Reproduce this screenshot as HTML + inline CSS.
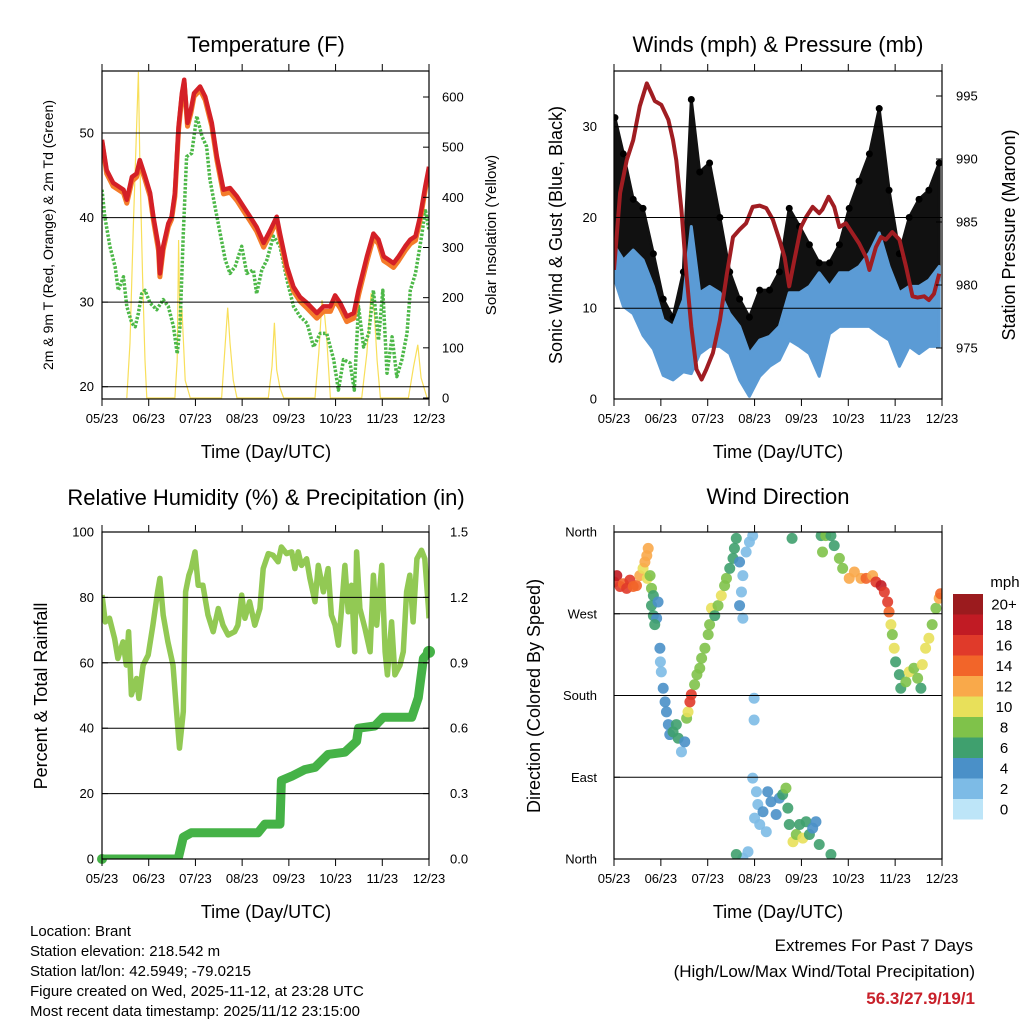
<!DOCTYPE html>
<html><head><meta charset="utf-8">
<style>
html,body{margin:0;padding:0;background:#fff;}
svg{display:block;font-family:"Liberation Sans",Arial,sans-serif;}
</style></head>
<body>
<svg id="chart" width="1024" height="1024" viewBox="0 0 1024 1024" xmlns="http://www.w3.org/2000/svg">
<defs>
<clipPath id="c1"><rect x="102" y="71" width="327" height="328"/></clipPath>
<clipPath id="c2"><rect x="614" y="71" width="328" height="328"/></clipPath>
<clipPath id="c3"><rect x="102" y="532" width="327" height="327"/></clipPath>
<clipPath id="c4"><rect x="614" y="532" width="328" height="327"/></clipPath>
</defs>
<text x="266" y="52" font-size="22" text-anchor="middle">Temperature (F)</text>
<text x="778" y="52" font-size="22" text-anchor="middle">Winds (mph) &amp; Pressure (mb)</text>
<text x="266" y="505" font-size="22" text-anchor="middle">Relative Humidity (%) &amp; Precipitation (in)</text>
<text x="778" y="504" font-size="22" text-anchor="middle">Wind Direction</text>

<text transform="translate(53,235) rotate(-90)" font-size="14" text-anchor="middle">2m &amp; 9m T (Red, Orange) &amp; 2m Td (Green)</text>
<text transform="translate(496,235) rotate(-90)" font-size="15" text-anchor="middle">Solar Insolation (Yellow)</text>
<text transform="translate(562,235) rotate(-90)" font-size="18" text-anchor="middle">Sonic Wind &amp; Gust (Blue, Black)</text>
<text transform="translate(1015,235) rotate(-90)" font-size="18" text-anchor="middle">Station Pressure (Maroon)</text>
<text transform="translate(47,696) rotate(-90)" font-size="18" text-anchor="middle">Percent &amp; Total Rainfall</text>
<text transform="translate(540,696) rotate(-90)" font-size="18" text-anchor="middle">Direction (Colored By Speed)</text>

<text x="266" y="458" font-size="18" text-anchor="middle">Time (Day/UTC)</text>
<text x="778" y="458" font-size="18" text-anchor="middle">Time (Day/UTC)</text>
<text x="266" y="918" font-size="18" text-anchor="middle">Time (Day/UTC)</text>
<text x="778" y="918" font-size="18" text-anchor="middle">Time (Day/UTC)</text>

<g font-size="15">
<text x="30" y="936">Location: Brant</text>
<text x="30" y="956">Station elevation: 218.542 m</text>
<text x="30" y="976">Station lat/lon: 42.5949; -79.0215</text>
<text x="30" y="996">Figure created on Wed, 2025-11-12, at 23:28 UTC</text>
<text x="30" y="1016">Most recent data timestamp: 2025/11/12 23:15:00</text>
</g>
<g font-size="17" text-anchor="end">
<text x="973" y="951">Extremes For Past 7 Days</text>
<text x="975" y="977">(High/Low/Max Wind/Total Precipitation)</text>
<text x="975" y="1004" fill="#c8202a" font-weight="bold">56.3/27.9/19/1</text>
</g>
<text x="1005" y="587" font-size="15" text-anchor="middle">mph</text>
</svg>
<script>
// ---------- data ----------
const dateLabels=["05/23","06/23","07/23","08/23","09/23","10/23","11/23","12/23"];
const tempTicks=[20,30,40,50];
const solarTicks=[0,100,200,300,400,500,600];
const windTicks=[0,10,20,30];
const pressTicks=[975,980,985,990,995];
const rhTicks=[0,20,40,60,80,100];
const precipTicks=[0.0,0.3,0.6,0.9,1.2,1.5];
const dirTicks=[0,90,180,270,360];
const dirLabels=["North","East","South","West","North"];
const speedBins=["0","2","4","6","8","10","12","14","16","18","20+"];

const tempT=[0,.10,.24,.46,.53,.64,.74,.81,.92,1.03,1.10,1.21,1.24,1.31,1.42,1.49,1.56,1.64,1.71,1.76,1.83,1.90,1.97,2.10,2.21,2.35,2.46,2.60,2.74,2.89,3.03,3.17,3.31,3.46,3.60,3.74,3.81,3.96,4.10,4.24,4.39,4.60,4.74,4.89,4.99,5.10,5.24,5.39,5.49,5.67,5.81,5.92,6.03,6.14,6.24,6.35,6.49,6.60,6.71,6.81,6.92,7.0];
const temp2m=[49.2,45.6,44.1,43.3,42.1,44.8,45.2,46.8,44.9,42.9,40.1,36.6,33.4,36.6,39.3,40.1,42.9,50.8,54.7,56.3,51.2,52.7,54.7,55.5,54.3,51.2,47.2,43.3,43.5,42.5,41.3,40.1,38.9,37.0,38.5,40.1,38.1,34.2,31.8,30.6,29.9,28.7,29.5,29.5,30.8,29.9,28.3,28.7,31.4,35.4,38.1,37.4,35.4,35.0,34.6,35.4,36.6,37.4,37.8,40.1,43.7,46.0];
const temp9m=[48.9,45.2,43.7,42.9,41.7,44.3,44.8,46.3,44.5,42.5,39.7,36.1,33.0,36.2,38.9,39.8,42.5,50.4,54.3,55.9,50.8,52.3,54.3,55.1,53.9,50.8,46.8,42.8,43.0,42.0,40.8,39.6,38.4,36.5,38.0,39.6,37.6,33.7,31.3,30.1,29.3,28.1,28.9,28.9,30.2,29.3,27.7,28.1,30.8,34.8,37.6,36.9,34.9,34.5,34.1,34.9,36.1,36.9,37.3,39.7,43.3,45.6];
const dewT=[0,.06,.17,.28,.35,.46,.53,.64,.71,.78,.85,.92,1.03,1.17,1.31,1.42,1.53,1.61,1.67,1.74,1.81,1.92,2.03,2.14,2.24,2.31,2.42,2.53,2.64,2.74,2.85,2.99,3.10,3.24,3.31,3.42,3.53,3.67,3.81,3.96,4.10,4.24,4.39,4.53,4.67,4.81,4.96,5.06,5.17,5.31,5.40,5.49,5.60,5.71,5.81,5.92,6.01,6.10,6.21,6.31,6.42,6.53,6.60,6.71,6.85,6.92,7.0];
const dewV=[43.3,40.1,36.6,34.2,31.4,33.0,29.5,27.5,27.1,28.7,31.0,31.4,29.9,29.1,30.3,29.5,27.1,23.9,27.1,38.1,47.2,47.6,52.0,49.6,48.4,44.5,41.3,38.1,35.0,33.4,34.2,36.6,33.4,33.8,31.0,33.8,35.0,37.8,36.6,32.6,29.5,28.3,27.5,24.7,26.3,26.3,23.2,19.6,23.2,22.8,19.6,29.5,24.7,26.3,31.4,25.5,31.4,21.6,25.9,21.2,23.2,26.3,31.4,33.4,38.1,41.0,38.5];
const solarT=[.53,.60,.67,.73,.78,.81,.87,.92,.96,1.56,1.61,1.64,1.67,1.71,1.78,1.89,2.56,2.64,2.69,2.74,2.81,2.89,3.56,3.64,3.69,3.74,3.81,3.89,4.56,4.64,4.71,4.76,4.81,4.89,5.56,5.67,5.76,5.83,5.89,5.96,6.56,6.67,6.76,6.83,6.96];
const solarV=[0,110,340,510,650,475,240,75,0,0,75,315,140,180,35,0,0,110,180,110,35,0,0,63,150,56,20,0,0,90,195,170,120,0,0,90,209,170,75,0,0,63,106,40,0];

const windT=[.02,.20,.41,.62,.84,1.05,1.26,1.48,1.65,1.83,2.04,2.26,2.47,2.68,2.89,3.11,3.32,3.53,3.74,3.96,4.17,4.38,4.60,4.81,5.02,5.23,5.45,5.66,5.87,6.09,6.30,6.51,6.72,6.94];
const windHi=[16.8,15.3,16.4,15.3,12.4,8.7,8.0,10.9,19.0,11.7,12.4,11.7,9.4,8.0,5.0,6.5,6.9,8.0,11.7,11.7,12.4,13.9,12.4,13.9,13.9,14.6,16.1,18.3,14.6,11.7,12.4,12.4,13.1,14.6];
const windLo=[13.1,10.2,9.4,7.0,5.5,2.6,2.1,3.0,2.8,5.0,5.8,5.8,5.0,2.1,0.3,2.5,3.6,4.3,6.5,5.8,5.0,2.5,7.2,8.0,8.0,8.0,8.0,7.2,6.5,3.6,5.8,5.0,5.8,5.8];
const gustHi=[31,27,22,21,16,11,9,14,33,25,26,20,14,11,9,12,12,14,21,19,17,15,15,17,21,24,27,32,23,16,20,22,23,26];
const gustLo=[16,15,16,14,11,6,5,9,16,12,12,11,9,6,4,5,6,8,11,11,11,10,11,12,13,14,15,17,12,9,11,11,12,13];
const pressT=[0,.13,.27,.41,.55,.70,.80,.87,1.01,1.16,1.26,1.33,1.44,1.55,1.65,1.76,1.87,1.97,2.11,2.26,2.40,2.54,2.68,2.82,2.96,3.11,3.25,3.39,3.53,3.64,3.74,3.85,3.99,4.10,4.24,4.38,4.45,4.58,4.70,4.81,4.95,5.09,5.23,5.38,5.45,5.59,5.70,5.80,5.94,6.09,6.23,6.37,6.48,6.62,6.72,6.83,6.94];
const pressV=[981.2,987.3,989.9,991.5,994.2,996.0,995.2,994.6,994.3,993.1,991.5,989.9,985.9,980.7,976.7,973.3,972.5,973.3,974.6,977.2,980.7,983.8,984.4,984.9,986.2,986.3,986.1,985.2,983.6,982.2,979.9,982.0,984.6,985.4,986.2,985.7,986.0,987.0,986.2,984.6,984.9,984.1,983.3,982.2,981.2,983.0,983.8,983.6,984.2,983.6,981.5,979.1,979.0,979.1,978.8,979.3,980.9];

const rhT=[0,.07,.16,.27,.34,.45,.52,.57,.63,.74,.79,.88,.99,1.09,1.19,1.24,1.31,1.41,1.52,1.59,1.66,1.74,1.79,1.86,1.91,1.99,2.06,2.16,2.27,2.38,2.49,2.59,2.70,2.84,2.91,2.99,3.06,3.16,3.27,3.38,3.45,3.56,3.66,3.77,3.84,3.95,4.06,4.13,4.20,4.27,4.38,4.45,4.56,4.63,4.74,4.84,4.91,4.99,5.06,5.13,5.20,5.27,5.34,5.41,5.45,5.52,5.63,5.74,5.81,5.88,5.99,6.06,6.11,6.20,6.27,6.38,6.45,6.52,6.59,6.66,6.74,6.84,6.91,6.99,7.0];
const rhV=[80.7,72.5,73.6,67.4,61.3,66.4,59.3,69.5,50.2,55.2,49.1,59.3,62.4,71.5,81.7,85.8,74.6,66.4,59.3,46.1,33.9,45.1,81.7,86.8,88.8,93.9,83.7,83.7,74.6,69.5,76.6,71.5,68.5,69.5,71.5,80.7,73.6,78.7,71.5,76.6,88.8,93.4,92.9,90.9,95.4,93.4,93.9,88.8,93.9,89.8,91.8,85.8,78.7,89.8,81.7,88.8,74.6,71.5,65.4,76.6,89.8,75.6,83.7,63.4,93.9,76.6,70.5,63.4,86.8,71.5,89.8,63.4,56.3,72.5,56.3,59.3,63.4,81.7,86.8,72.5,91.8,94.4,91.8,76.6,73.6];
const precipT=[0,1.63,1.74,1.91,3.34,3.49,3.81,3.84,4.06,4.34,4.56,4.84,5.20,5.45,5.49,5.84,6.02,6.63,6.77,6.88,7.0];
const precipV=[0,0,0.10,0.12,0.12,0.16,0.16,0.36,0.38,0.41,0.42,0.48,0.49,0.54,0.60,0.61,0.65,0.65,0.74,0.92,0.95];

const dirT=[0,.06,.13,.20,.27,.34,.41,.48,.55,.62,.66,.70,.73,.71,.77,.80,.84,.80,.84,.91,.87,.94,.98,.99,1.01,1.05,1.09,1.12,1.16,1.19,1.26,1.33,1.37,1.44,1.51,1.55,1.58,1.62,1.65,1.72,1.77,1.83,1.87,1.94,2.01,2.04,2.08,2.15,2.22,2.29,2.36,2.40,2.47,2.54,2.57,2.61,2.68,2.75,2.72,2.68,2.75,2.82,2.89,2.96,2.99,2.99,2.96,3.04,3.07,3.00,3.11,3.18,3.25,3.28,3.35,3.46,3.53,3.60,3.67,3.71,3.74,3.82,3.89,3.96,4.03,4.10,4.17,4.24,4.31,4.38,4.63,2.75,2.61,2.86,3.80,4.42,4.52,4.63,4.45,4.70,4.81,4.88,5.02,5.13,5.27,5.38,5.52,5.59,5.70,5.77,5.84,5.87,5.91,5.94,5.98,6.01,6.09,6.12,6.23,6.30,6.40,6.48,6.55,6.58,6.65,6.72,6.79,6.87,6.94,6.97];
const dirV=[305,312,300,303,298,307,300,301,312,320,327,334,342,309,312,298,290,279,268,265,258,283,232,217,206,188,173,162,148,137,140,148,133,118,129,155,162,173,181,192,203,210,221,232,247,258,276,268,279,290,301,309,320,331,342,353,327,312,294,279,265,338,349,356,177,153,89,74,60,45,38,52,30,74,63,49,67,71,78,56,38,19,27,38,23,41,27,34,41,16,5,1,5,8,353,356,356,356,338,345,331,320,309,316,309,309,312,305,301,294,283,272,258,247,232,217,203,188,195,206,210,199,188,214,232,243,258,276,287,292];
const dirS=[17,18,16,15,16,17,15,14,12,11,12,13,12,10,9,8,7,6,6,5,6,4,4,3,3,4,4,4,4,5,6,6,6,3,5,9,11,16,17,9,8,8,9,8,8,9,10,7,9,10,9,8,7,7,6,7,4,3,3,4,2,3,2,3,2,3,2,2,2,3,3,4,2,4,4,4,5,7,8,6,7,10,9,7,10,7,7,5,4,6,6,2,6,2,6,7,8,7,8,7,8,9,12,13,12,14,13,16,18,16,16,15,10,8,10,7,6,6,8,10,8,9,6,10,10,10,8,9,13,15];

// ---------- helpers ----------
const NS='http://www.w3.org/2000/svg';
const svg=document.getElementById('chart');
function mk(tag,attrs,parent){const e=document.createElementNS(NS,tag);for(const k in attrs)e.setAttribute(k,attrs[k]);(parent||svg).appendChild(e);return e;}
function scale(d0,d1,r0,r1){return v=>r0+(v-d0)/(d1-d0)*(r1-r0);}
const speedColors=['#bde5f8','#7dbbe6','#4a90c8','#3fa06e','#7fc24a','#e8e05a','#f9a94a','#f26529','#e03a2a','#c11b24','#9b1b1e'];
function speedColor(s){return speedColors[Math.min(10,Math.max(0,Math.floor(s/2)))];}

const P1={x0:102,x1:429,y0:71,y1:399}, P2={x0:614,x1:942,y0:71,y1:399},
      P3={x0:102,x1:429,y0:532,y1:859}, P4={x0:614,x1:942,y0:532,y1:859};
const xs1=scale(0,7,P1.x0,P1.x1), xs2=scale(0,7,P2.x0,P2.x1);
const yT=scale(20,50,386.7,133), ySol=scale(0,600,398,97);
const yW=scale(0,30,399,126.7), yP=scale(975,995,348,96);
const yRH=scale(0,100,859,532), yPr=scale(0,1.5,859,532), yD=scale(0,360,859,532);

function pathD(ts,vs,xs,ys){return ts.map((t,i)=>(i?'L':'M')+xs(t).toFixed(1)+','+ys(vs[i]).toFixed(1)).join(' ');}
function bandD(ts,lo,hi,xs,ys){let d=ts.map((t,i)=>(i?'L':'M')+xs(t).toFixed(1)+','+ys(hi[i]).toFixed(1)).join(' ');
  for(let i=ts.length-1;i>=0;i--)d+=' L'+xs(ts[i]).toFixed(1)+','+ys(lo[i]).toFixed(1);return d+' Z';}

function frame(P,name,xs,leftTicks,leftScale,leftLabels,rightTicks,rightScale,rightLabels,leftX,rightX){
  const g=mk('g',{});
  
  
  leftTicks.forEach((v,i)=>{
    const y=leftScale(v);
    if(y>P.y0+1&&y<P.y1-1){const gl=mk('line',{x1:P.x0,x2:P.x1,y1:y,y2:y,stroke:'#000','stroke-width':1},g);
      
      }
    const tk=mk('line',{x1:P.x0,x2:P.x0+6,y1:y,y2:y,stroke:'#000','stroke-width':1},g);
    
    
    const tx=mk('text',{x:leftX,y:y+4.5,'font-size':13,'text-anchor':'end'},g);
    
    
    tx.textContent=leftLabels[i];
  });
  if(rightTicks){rightTicks.forEach((v,i)=>{
    const y=rightScale(v);
    const tk=mk('line',{x1:P.x1-6,x2:P.x1,y1:y,y2:y,stroke:'#000','stroke-width':1},g);
    
    
    const tx=mk('text',{x:rightX,y:y+4.5,'font-size':13,'text-anchor':'start'},g);
    
    
    tx.textContent=rightLabels[i];
  });}
  dateLabels.forEach((lab,i)=>{
    const x=xs(i);
    const tb=mk('line',{x1:x,x2:x,y1:P.y1,y2:P.y1+7,stroke:'#000','stroke-width':1},g);
    
    
    const tt=mk('line',{x1:x,x2:x,y1:P.y0,y2:P.y0-7,stroke:'#000','stroke-width':1},g);
    
    
    const tx=mk('text',{x:x,y:P.y1+24,'font-size':13,'text-anchor':'middle'},g);
    
    
    tx.textContent=lab;
  });
  const box=mk('rect',{x:P.x0,y:P.y0,width:P.x1-P.x0,height:P.y1-P.y0,fill:'none',stroke:'#000','stroke-width':1.2},g);
  
  
}

// ---------- Panel 1: temperature ----------
const g1=mk('g',{'clip-path':'url(#c1)'});


const sol=mk('path',{d:pathD(solarT,solarV,xs1,ySol),fill:'none',stroke:'#f8df5a','stroke-width':1.2},g1);


const dew=mk('path',{d:pathD(dewT,dewV,xs1,yT),fill:'none',stroke:'#4db848','stroke-width':3.5,'stroke-dasharray':'2.5 1.6','stroke-linejoin':'round'},g1);


const t9=mk('path',{d:pathD(tempT,temp9m,xs1,yT),fill:'none',stroke:'#f47b2a','stroke-width':5,'stroke-linejoin':'round'},g1);


const t2=mk('path',{d:pathD(tempT,temp2m,xs1,yT),fill:'none',stroke:'#d42027','stroke-width':4.5,'stroke-linejoin':'round'},g1);


frame(P1,'temperature',xs1,tempTicks,yT,tempTicks.map(String),solarTicks,ySol,solarTicks.map(String),94,442);

// ---------- Panel 2: winds ----------
const g2=mk('g',{'clip-path':'url(#c2)'});


const gb=mk('path',{d:bandD(windT,gustLo,gustHi,xs2,yW),fill:'#111',stroke:'#111','stroke-width':3,'stroke-linejoin':'round'},g2);


windT.forEach((t,i)=>{
  const c=mk('circle',{cx:xs2(t),cy:yW(gustHi[i]),r:3.5,fill:'#000'},g2);
  
  
});
const wb=mk('path',{d:bandD(windT,windLo,windHi,xs2,yW),fill:'#5b9bd5',stroke:'#5b9bd5','stroke-width':3,'stroke-linejoin':'round'},g2);


const pl=mk('path',{d:pathD(pressT,pressV,xs2,yP),fill:'none',stroke:'#a01d22','stroke-width':4,'stroke-linejoin':'round'},g2);


frame(P2,'winds',xs2,windTicks,yW,windTicks.map(String),pressTicks,yP,pressTicks.map(String),597,956);

// ---------- Panel 3: humidity ----------
const g3=mk('g',{'clip-path':'url(#c3)'});


const rh=mk('path',{d:pathD(rhT,rhV,xs1,yRH),fill:'none',stroke:'#92c954','stroke-width':5.5,'stroke-linejoin':'round'},g3);


const pr=mk('path',{d:pathD(precipT,precipV,xs1,yPr),fill:'none',stroke:'#45b247','stroke-width':9,'stroke-linejoin':'round'},g3);


const pe=mk('circle',{cx:xs1(precipT[precipT.length-1]),cy:yPr(precipV[precipV.length-1]),r:6,fill:'#45b247'},svg);


const ps=mk('circle',{cx:xs1(precipT[0]),cy:yPr(precipV[0]),r:5,fill:'#45b247'},svg);


frame(P3,'humidity',xs1,rhTicks,yRH,rhTicks.map(String),precipTicks,yPr,precipTicks.map(v=>v.toFixed(1)),94,450);

// ---------- Panel 4: wind direction ----------
const g4=mk('g',{'clip-path':'url(#c4)'});


dirT.forEach((t,i)=>{
  const c=mk('circle',{cx:xs2(t),cy:yD(dirV[i]),r:5.5,fill:speedColor(dirS[i]),'fill-opacity':0.9},g4);
  
  
});
frame(P4,'direction',xs2,dirTicks,yD,dirLabels,null,null,null,597,0);

// legend colorbar
speedBins.forEach((lab,i)=>{
  const k=10-i;
  const y=594+i*20.5;
  const r=mk('rect',{x:953,y:y,width:30,height:20.5,fill:speedColors[k]});
  
  
  const tx=mk('text',{x:1004,y:y+15.5,'font-size':15,'text-anchor':'middle'});
  
  
  tx.textContent=speedBins[k];
});
</script>
</body></html>
